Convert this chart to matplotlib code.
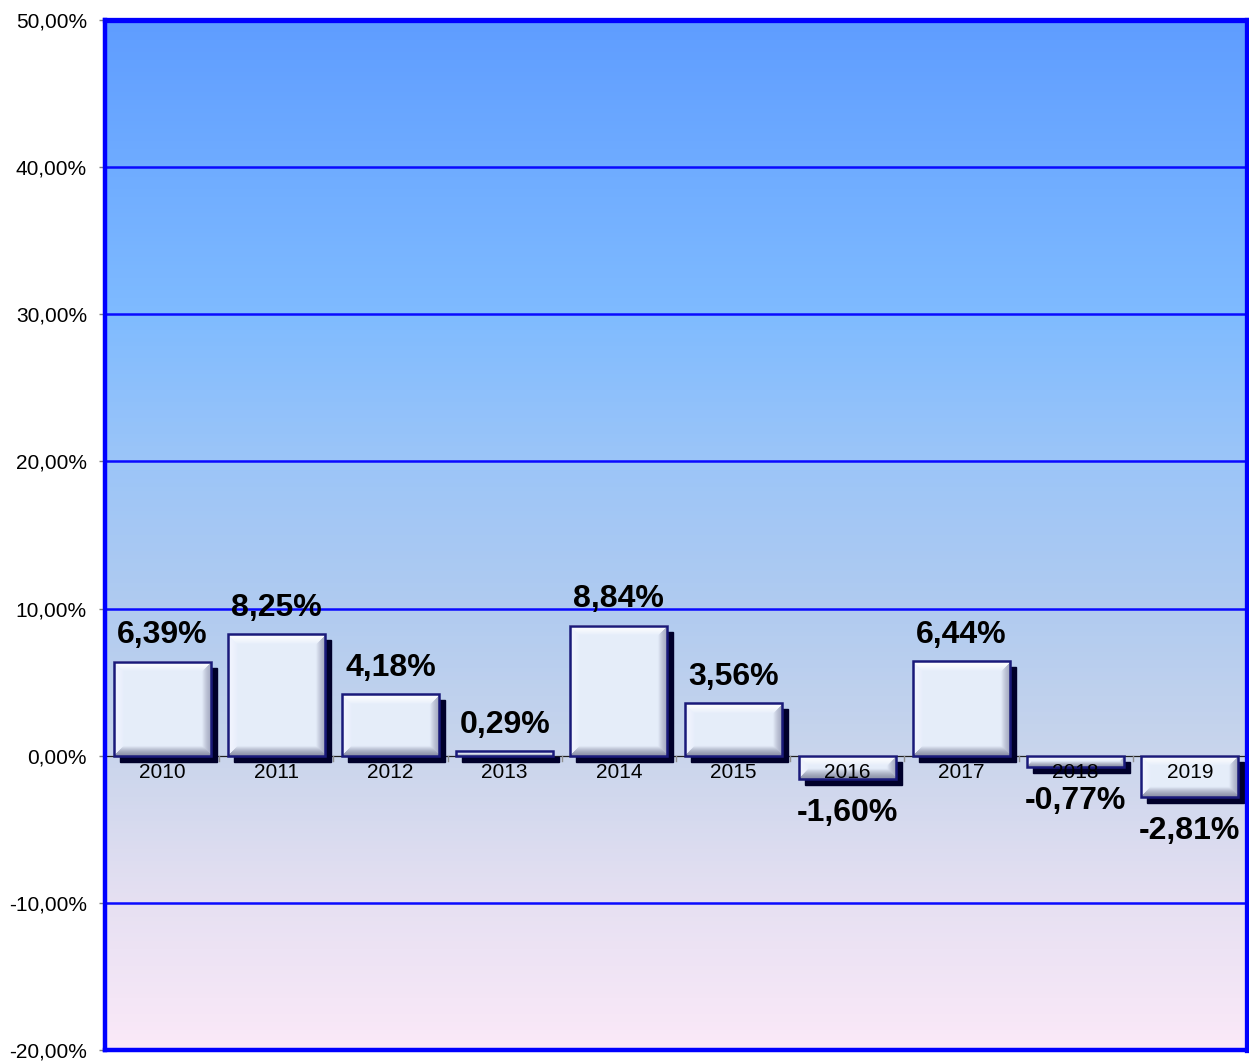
import numpy as np
import matplotlib.pyplot as plt
from matplotlib.patches import Rectangle
from matplotlib import transforms
from matplotlib.colors import LinearSegmentedColormap

# Data
years = ['2010', '2011', '2012', '2013', '2014', '2015', '2016', '2017', '2018', '2019']
values = [6.39, 8.25, 4.18, 0.29, 8.84, 3.56, -1.60, 6.44, -0.77, -2.81]
y_ticks = [-20, -10, 0, 10, 20, 30, 40, 50]

plt.rcParams['font.family'] = ['Liberation Sans', 'DejaVu Sans']

W, H = 1249, 1062
fig = plt.figure(figsize=(W / 100, H / 100), dpi=100)
ax = fig.add_axes([105 / W, 12 / H, 1142 / W, 1030 / H])
ax.set_xlim(-0.5, len(years) - 0.5)
ax.set_ylim(-20, 50)

# Background gradient (bottom -> top)
bg = LinearSegmentedColormap.from_list('bg', [
    (0.0, '#fbe9f8'), (0.143, '#e6e0f2'), (0.286, '#c9d5ec'),
    (0.43, '#b0cbf0'), (0.57, '#9cc5f8'), (0.714, '#7fbbff'),
    (1.0, '#5f9dff')])
ax.imshow(np.linspace(0, 1, 256).reshape(-1, 1), cmap=bg, origin='lower',
          extent=[0, 1, 0, 1], transform=ax.transAxes, aspect='auto', zorder=0)

# Grid lines
for t in y_ticks:
    if t not in (0, -20, 50):
        ax.axhline(t, color='#0a0aff', lw=1.8, zorder=1)
ax.axhline(0, color='#202020', lw=0.9, zorder=2)
for k in range(len(years) + 1):
    ax.plot([k - 0.5, k - 0.5], [0, -0.35], color='#909090', lw=1, zorder=2)

# Bars with shadow and bevel
bar_w = 0.85
shadow_tr = transforms.offset_copy(ax.transData, fig, x=6, y=-6, units='dots')
px_x = 1142 / len(years)
px_y = 1030 / 70


def bevel_image(wp, hp, b=10):
    wp, hp = max(int(wp), 2), max(int(hp), 2)
    b = min(b, hp / 2, wp / 2)
    xx, yy = np.meshgrid(np.arange(wp) + 0.5, np.arange(hp) + 0.5)
    d = np.stack([yy, hp - yy, xx, wp - xx])  # top, bottom, left, right
    side = np.argmin(d, axis=0)
    m = np.min(d, axis=0)
    center = np.array([0.90, 0.93, 0.98])
    edge_cols = [np.array([1.0, 1.0, 1.0]), np.array([0.55, 0.57, 0.66]),
                 np.array([0.95, 0.96, 1.0]), np.array([0.64, 0.66, 0.75])]
    img = np.ones((hp, wp, 3)) * center
    for s in range(4):
        mask = (side == s) & (m < b)
        f = (m[mask] / b)[:, None] ** 1.5
        img[mask] = edge_cols[s] * (1 - f) + center * f
    return img


for i, v in enumerate(values):
    x0 = i - bar_w / 2
    y0, y1 = min(0, v), max(0, v)
    ax.add_patch(Rectangle((x0, y0), bar_w, y1 - y0, color='#00002a',
                           transform=shadow_tr, zorder=3))
    img = bevel_image(bar_w * px_x, (y1 - y0) * px_y)
    ax.imshow(img, extent=[x0, x0 + bar_w, y0, y1], origin='upper',
              aspect='auto', interpolation='bilinear', zorder=4)
    ax.add_patch(Rectangle((x0, y0), bar_w, y1 - y0, facecolor='none',
                           edgecolor='#1a1a7a', lw=1.8, zorder=5))
    label = f'{v:.2f}%'.replace('.', ',')
    if v >= 0:
        ax.text(i, v + 1.25, label, ha='center', va='baseline',
                fontsize=23, fontweight='bold', color='black', zorder=6)
    else:
        ax.text(i, v - 2.85, label, ha='center', va='baseline',
                fontsize=23, fontweight='bold', color='black', zorder=6)
    ax.text(i, -1.15, years[i], ha='center', va='center', fontsize=15,
            color='black', zorder=6)

ax.set_xlim(-0.5, len(years) - 0.5)
ax.set_ylim(-20, 50)
ax.set_xticks([])
ax.set_yticks(y_ticks)
ax.set_yticklabels([f'{t:.2f}%'.replace('.', ',') for t in y_ticks], fontsize=15)
ax.tick_params(axis='y', length=4, width=1, color='#808080', pad=9)

for name, lw in [('left', 3.2), ('top', 3.8), ('right', 3.8), ('bottom', 3.2)]:
    ax.spines[name].set_color('#0000ff')
    ax.spines[name].set_linewidth(lw)
    ax.spines[name].set_zorder(7)

fig.savefig('out.png', dpi=100)
